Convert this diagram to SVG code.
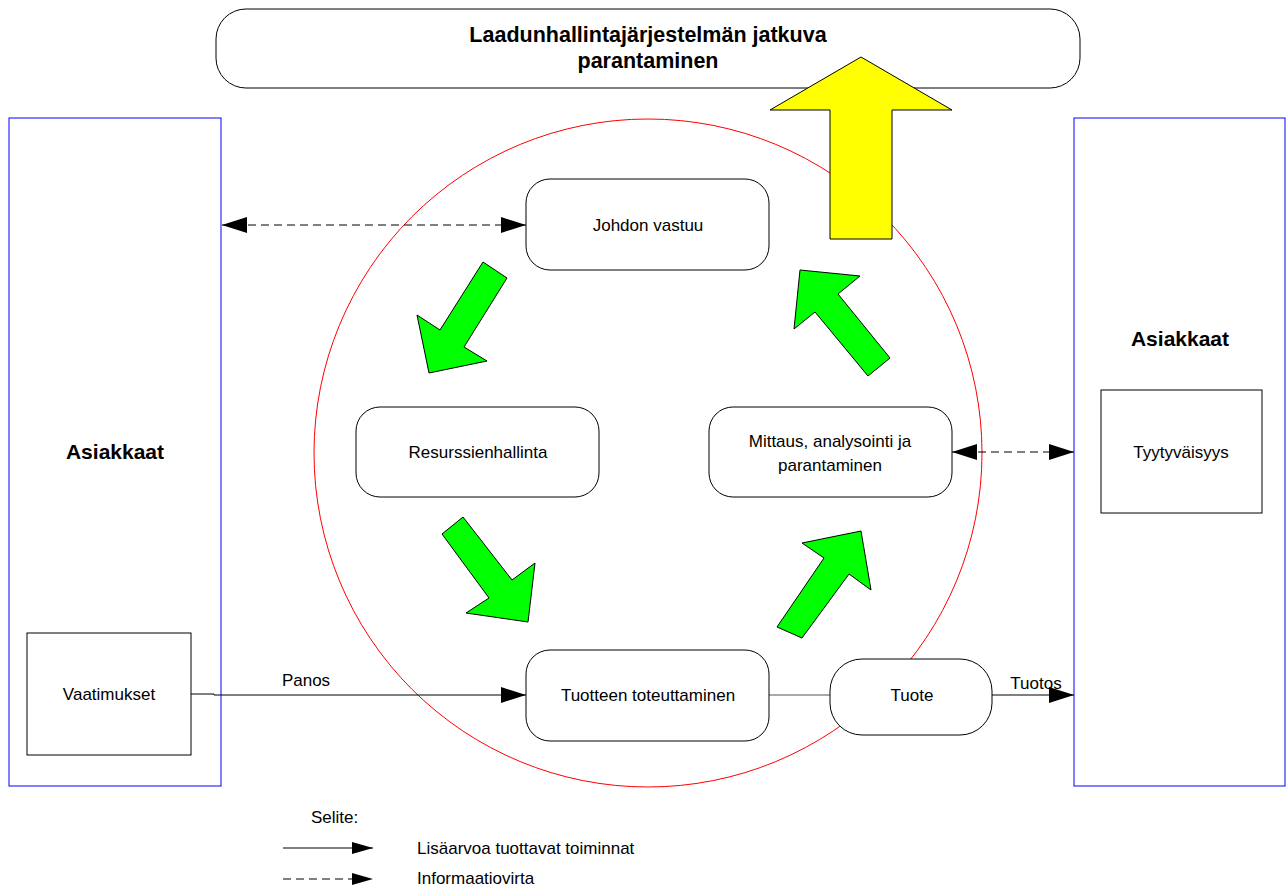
<svg xmlns="http://www.w3.org/2000/svg" width="1286" height="888" viewBox="0 0 1286 888">
<style>
text{font-family:"Liberation Sans",Arial,sans-serif;fill:#000}
.t{font-size:17px;text-anchor:middle}
.b{font-weight:bold;text-anchor:middle}
.box{fill:#fff;stroke:#000;stroke-width:1}
.blue{fill:none;stroke:#0000ff;stroke-width:1}
.green{fill:#00ff00;stroke:#000;stroke-width:1}
.ln{fill:none;stroke:#000;stroke-width:1}
.dash{fill:none;stroke:#000;stroke-width:1;stroke-dasharray:8,5}
</style>
<defs>
<marker id="arr" markerUnits="userSpaceOnUse" markerWidth="25" markerHeight="16" refX="25" refY="8" orient="auto-start-reverse">
<path d="M0,0 L25,8 L0,16 z" fill="#000"/>
</marker>
<marker id="arrs" markerUnits="userSpaceOnUse" markerWidth="21" markerHeight="12" refX="21" refY="6" orient="auto">
<path d="M0,0 L21,6 L0,12 z" fill="#000"/>
</marker>
</defs>
<rect width="1286" height="888" fill="#fff"/>

<g id="title">
<rect x="216" y="9" width="864" height="79" rx="30" ry="30" class="box"/>
<text x="648" y="42" class="b" font-size="21.5">Laadunhallintajärjestelmän jatkuva</text>
<text x="648" y="68" class="b" font-size="21.5">parantaminen</text>
</g>

<g id="asiakkaat-left">
<rect x="9" y="118" width="212" height="668" class="blue"/>
<text x="115" y="459" class="b" font-size="21">Asiakkaat</text>
</g>
<g id="asiakkaat-right">
<rect x="1074" y="118" width="211" height="668" class="blue"/>
<text x="1180" y="346" class="b" font-size="21">Asiakkaat</text>
</g>

<g id="vaatimukset">
<rect x="27" y="633" width="164" height="122" class="box"/>
<text x="109" y="700" class="t">Vaatimukset</text>
</g>
<g id="tyytyvaisyys">
<rect x="1101" y="390" width="161" height="123" class="box"/>
<text x="1181" y="458" class="t">Tyytyväisyys</text>
</g>

<g id="circle">
<circle cx="648" cy="453" r="334" fill="none" stroke="#ff0000" stroke-width="1"/>
</g>

<g id="connectors">
<path d="M191,694 L214,694 L214,695 L526,695" class="ln" marker-end="url(#arr)"/>
<line x1="769" y1="695" x2="830" y2="695" stroke="#555" stroke-width="1"/>
<line x1="992" y1="695" x2="1074" y2="695" class="ln" marker-end="url(#arr)"/>
<line x1="222" y1="225" x2="526" y2="225" class="dash" marker-start="url(#arr)" marker-end="url(#arr)"/>
<line x1="952" y1="452" x2="1074" y2="452" class="dash" marker-start="url(#arr)" marker-end="url(#arr)"/>
<text x="306" y="686" font-size="17" text-anchor="middle">Panos</text>
<text x="1036" y="689" font-size="17" text-anchor="middle">Tuotos</text>
</g>

<g id="yellow-arrow">
<polygon points="861,57 952,110 892,110 892,239 830,239 830,110 770,110" fill="#ffff00" stroke="#000" stroke-width="1"/>
</g>

<g id="green-arrows">
<polygon class="green" points="483,262 507,278 464,347 487,361 429,373 417,315 440,330"/>
<polygon class="green" points="800,270 860,276 838,294 890,358 868,376 815,312 794,329"/>
<polygon class="green" points="463,517 512,580 535,563 528,622 466,613 489,598 442,534"/>
<polygon class="green" points="861,531 871,590 849,574 802,638 777,627 824,558 802,543"/>
</g>

<g id="johdon-vastuu">
<rect x="526" y="179" width="243" height="91" rx="24" ry="24" class="box"/>
<text x="648" y="231" class="t">Johdon vastuu</text>
</g>
<g id="resurssienhallinta">
<rect x="356" y="407" width="243" height="90" rx="24" ry="24" class="box"/>
<text x="478" y="458" class="t">Resurssienhallinta</text>
</g>
<g id="mittaus">
<rect x="709" y="407" width="243" height="90" rx="24" ry="24" class="box"/>
<text x="830" y="447" class="t">Mittaus, analysointi ja</text>
<text x="830" y="471" class="t">parantaminen</text>
</g>
<g id="tuotteen-toteuttaminen">
<rect x="526" y="650" width="243" height="91" rx="24" ry="24" class="box"/>
<text x="648" y="701" class="t">Tuotteen toteuttaminen</text>
</g>
<g id="tuote">
<rect x="830" y="659" width="162" height="76" rx="32" ry="32" class="box"/>
<text x="912" y="701" class="t">Tuote</text>
</g>

<g id="legend">
<text x="311" y="823" font-size="17">Selite:</text>
<line x1="283" y1="848" x2="373" y2="848" class="ln" marker-end="url(#arrs)"/>
<text x="417" y="854" font-size="17">Lisäarvoa tuottavat toiminnat</text>
<line x1="283" y1="879" x2="373" y2="879" class="dash" marker-end="url(#arrs)"/>
<text x="417" y="884" font-size="17">Informaatiovirta</text>
</g>
</svg>
